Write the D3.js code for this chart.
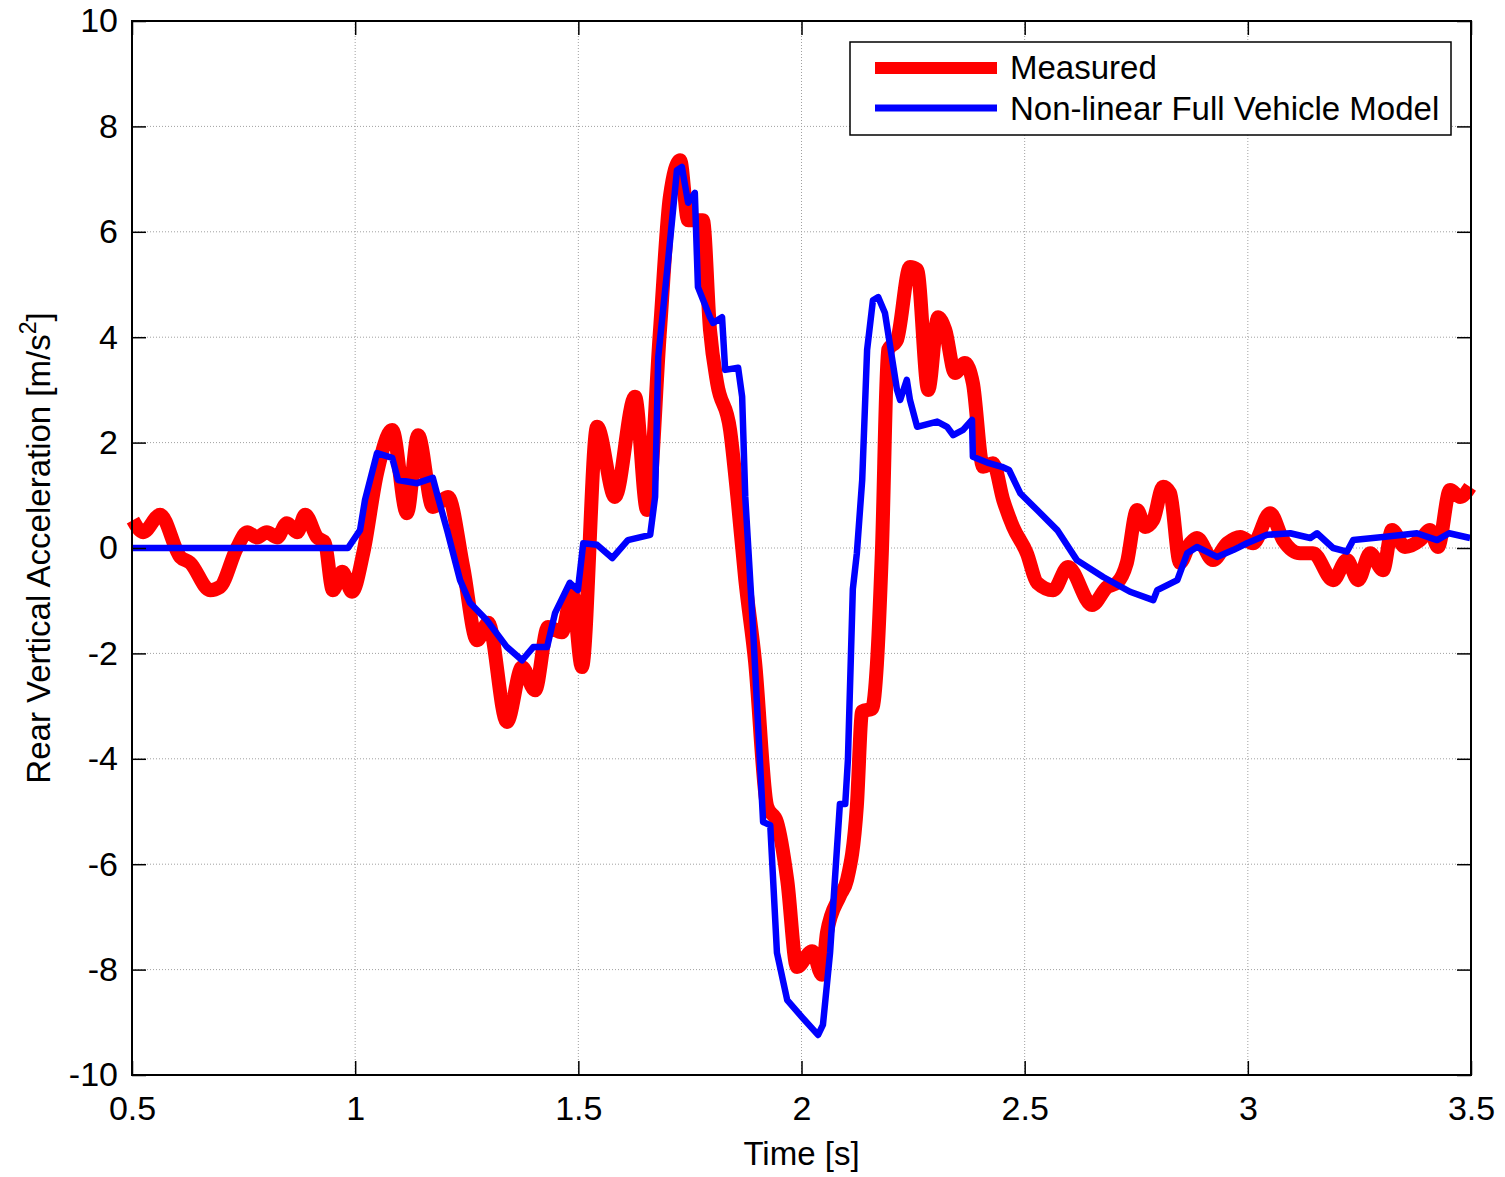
<!DOCTYPE html>
<html>
<head>
<meta charset="utf-8">
<script src="https://cdn.jsdelivr.net/npm/d3@7"></script>
<style>
  body { margin: 0; background: #fff; }
  text { font-family: Arial, "Liberation Sans", sans-serif; fill: #000; }
</style>
</head>
<body>
<script>
// measured rear vertical acceleration
const measTime = [0.502, 0.525, 0.563, 0.608, 0.630, 0.675, 0.697, 0.735, 0.758, 0.780,
    0.802, 0.825, 0.847, 0.870, 0.888, 0.915, 0.932, 0.950, 0.971, 0.993,
    1.018, 1.049, 1.083, 1.116, 1.141, 1.174, 1.208, 1.242, 1.273, 1.298,
    1.340, 1.374, 1.403, 1.432, 1.463, 1.486, 1.508, 1.542, 1.582, 1.627,
    1.654, 1.683, 1.705, 1.728, 1.746, 1.779, 1.795, 1.811, 1.840, 1.856,
    1.874, 1.896, 1.923, 1.945, 1.968, 1.990, 2.024, 2.046, 2.057, 2.086,
    2.102, 2.124, 2.136, 2.158, 2.169, 2.180, 2.194, 2.214, 2.243, 2.259,
    2.284, 2.306, 2.322, 2.344, 2.366, 2.384, 2.407, 2.429, 2.452, 2.474,
    2.505, 2.528, 2.564, 2.597, 2.651, 2.685, 2.707, 2.729, 2.752, 2.770,
    2.788, 2.810, 2.826, 2.848, 2.871, 2.886, 2.922, 2.954, 2.983, 3.012,
    3.050, 3.079, 3.117, 3.146, 3.191, 3.222, 3.247, 3.274, 3.303, 3.323,
    3.352, 3.386, 3.408, 3.426, 3.453, 3.476, 3.498];
const measAcc = [0.53, 0.30, 0.63, -0.17, -0.28, -0.80, -0.74, 0.00, 0.30, 0.20,
    0.30, 0.20, 0.47, 0.30, 0.63, 0.20, 0.10, -0.80, -0.45, -0.83,
    -0.10, 1.42, 2.24, 0.66, 2.14, 0.78, 0.97, -0.36, -1.75, -1.42,
    -3.30, -2.26, -2.70, -1.50, -1.60, -0.85, -2.26, 2.30, 0.97, 2.87,
    0.72, 4.14, 6.66, 7.36, 6.22, 6.22, 4.14, 3.13, 2.24, 1.00,
    -0.60, -2.16, -4.90, -5.20, -6.30, -7.95, -7.65, -8.10, -7.30, -6.60,
    -6.30, -4.90, -3.10, -3.05, -2.20, -0.10, 3.76, 3.95, 5.33, 5.28,
    3.00, 4.38, 4.14, 3.32, 3.51, 3.13, 1.54, 1.61, 0.91, 0.40,
    -0.10, -0.66, -0.80, -0.36, -1.08, -0.74, -0.66, -0.28, 0.72, 0.40,
    0.53, 1.16, 1.04, -0.28, 0.09, 0.19, -0.23, 0.09, 0.21, 0.09,
    0.66, 0.15, -0.10, -0.10, -0.61, -0.23, -0.61, -0.10, -0.42, 0.34,
    0.02, 0.15, 0.34, 0.02, 1.10, 0.97, 1.16];

// non-linear full vehicle model
const modelTime = [0.502, 0.984, 1.011, 1.022, 1.049, 1.083, 1.096, 1.139, 1.174, 1.183,
    1.206, 1.235, 1.257, 1.295, 1.340, 1.374, 1.399, 1.430, 1.448, 1.481,
    1.499, 1.511, 1.542, 1.576, 1.611, 1.661, 1.672, 1.679, 1.699, 1.721,
    1.732, 1.746, 1.761, 1.768, 1.795, 1.802, 1.822, 1.829, 1.858, 1.867,
    1.874, 1.891, 1.914, 1.930, 1.945, 1.968, 2.003, 2.037, 2.048, 2.064,
    2.086, 2.098, 2.104, 2.115, 2.124, 2.136, 2.147, 2.160, 2.172, 2.187,
    2.214, 2.221, 2.236, 2.243, 2.259, 2.304, 2.326, 2.340, 2.362, 2.382,
    2.384, 2.420, 2.449, 2.465, 2.490, 2.528, 2.573, 2.617, 2.676, 2.736,
    2.788, 2.797, 2.842, 2.864, 2.886, 2.931, 2.967, 2.998, 3.043, 3.095,
    3.140, 3.155, 3.191, 3.222, 3.236, 3.303, 3.379, 3.424, 3.451, 3.498];
const modelAcc = [0, 0, 0.34, 0.91, 1.80, 1.71, 1.29, 1.23, 1.33, 1.04,
    0.34, -0.61, -1.04, -1.37, -1.88, -2.13, -1.88, -1.88, -1.23, -0.66,
    -0.80, 0.09, 0.06, -0.19, 0.15, 0.25, 0.97, 3.62, 5.27, 7.17,
    7.23, 6.55, 6.74, 4.95, 4.38, 4.27, 4.38, 3.38, 3.42, 2.87,
    0.97, -1.46, -5.20, -5.26, -7.68, -8.58, -8.92, -9.24, -9.05, -7.68,
    -4.86, -4.86, -4.02, -0.78, -0.10, 1.29, 3.76, 4.70, 4.76, 4.46,
    3.00, 2.81, 3.19, 2.81, 2.30, 2.40, 2.30, 2.14, 2.24, 2.43,
    1.73, 1.61, 1.54, 1.48, 1.04, 0.72, 0.34, -0.23, -0.55, -0.83,
    -0.99, -0.80, -0.61, -0.10, 0.02, -0.17, -0.04, 0.09, 0.25, 0.28,
    0.19, 0.28, 0.00, -0.07, 0.15, 0.21, 0.28, 0.15, 0.28, 0.19];

const xTicks = [0.5, 1, 1.5, 2, 2.5, 3, 3.5];
const yTicks = [-10, -8, -6, -4, -2, 0, 2, 4, 6, 8, 10];
const seriesNames = ['Measured', 'Non-linear Full Vehicle Model'];
const seriesColors = ['#ff0000', '#0000ff'];

const width = 1505;
const height = 1177;
const margin = {left: 132, right: 34, top: 21, bottom: 102};

let svg = d3.select('body')
    .append('svg')
    .attr('width', width)
    .attr('height', height);

const x = d3.scaleLinear()
    .domain([0.5, 3.5])
    .range([margin.left, width - margin.right]);
const y = d3.scaleLinear()
    .domain([-10, 10])
    .range([height - margin.bottom, margin.top]);

// dotted grid
svg.append('g')
    .selectAll('line')
    .data(xTicks.slice(1, -1))
    .join('line')
    .attr('x1', d => x(d)).attr('x2', d => x(d))
    .attr('y1', y(10)).attr('y2', y(-10))
    .style('stroke', '#a0a0a0')
    .style('stroke-width', 1)
    .style('stroke-dasharray', '1,2');
svg.append('g')
    .selectAll('line')
    .data(yTicks.slice(1, -1))
    .join('line')
    .attr('x1', x(0.5)).attr('x2', x(3.5))
    .attr('y1', d => y(d)).attr('y2', d => y(d))
    .style('stroke', '#a0a0a0')
    .style('stroke-width', 1)
    .style('stroke-dasharray', '1,2');

// lines
const measured = measTime.map((t, i) => ({t: t, v: measAcc[i]}));
const model = modelTime.map((t, i) => ({t: t, v: modelAcc[i]}));

const smoothLine = d3.line()
    .x(d => x(d.t))
    .y(d => y(d.v))
    .curve(d3.curveMonotoneX);
const rawLine = d3.line()
    .x(d => x(d.t))
    .y(d => y(d.v));

const plot = svg.append('g');
plot.append('path')
    .attr('d', smoothLine(measured))
    .style('fill', 'none')
    .style('stroke', seriesColors[0])
    .style('stroke-width', 14)
    .style('stroke-linejoin', 'round');
plot.append('path')
    .attr('d', rawLine(model))
    .style('fill', 'none')
    .style('stroke', seriesColors[1])
    .style('stroke-width', 6.5)
    .style('stroke-linejoin', 'round');

// axes (box with inward ticks, MATLAB style)
const tickLen = 14;
const fmt = d => String(d);
svg.append('g')
    .attr('transform', `translate(0,${y(-10)})`)
    .call(d3.axisBottom(x).tickValues(xTicks).tickSize(-tickLen).tickPadding(21)
        .tickFormat(fmt))
    .call(g => g.select('.domain').remove());
svg.append('g')
    .attr('transform', `translate(0,${y(10)})`)
    .call(d3.axisTop(x).tickValues(xTicks).tickSize(-tickLen).tickFormat(''))
    .call(g => g.select('.domain').remove());
svg.append('g')
    .attr('transform', `translate(${x(0.5)},0)`)
    .call(d3.axisLeft(y).tickValues(yTicks).tickSize(-tickLen).tickPadding(14)
        .tickFormat(fmt))
    .call(g => g.select('.domain').remove());
svg.append('g')
    .attr('transform', `translate(${x(3.5)},0)`)
    .call(d3.axisRight(y).tickValues(yTicks).tickSize(-tickLen).tickFormat(''))
    .call(g => g.select('.domain').remove());

svg.selectAll('.tick line')
    .style('stroke', '#000')
    .style('stroke-width', 1.5);
svg.selectAll('.tick text')
    .style('font-size', '34px')
    .style('font-family', 'Arial, "Liberation Sans", sans-serif')
    .style('fill', '#000');

svg.append('rect')
    .attr('x', x(0.5))
    .attr('y', y(10))
    .attr('width', x(3.5) - x(0.5))
    .attr('height', y(-10) - y(10))
    .style('fill', 'none')
    .style('stroke', '#000')
    .style('stroke-width', 2);

// axis labels
svg.append('text')
    .attr('x', x(2))
    .attr('y', 1165)
    .attr('text-anchor', 'middle')
    .style('font-size', '33px')
    .text('Time [s]');

const yLab = svg.append('text')
    .attr('transform', `translate(50,${y(0)}) rotate(-90)`)
    .attr('text-anchor', 'middle')
    .style('font-size', '33px');
yLab.append('tspan').text('Rear Vertical Acceleration [m/s');
yLab.append('tspan').attr('dy', -14).style('font-size', '23px').text('2');
yLab.append('tspan').attr('dy', 14).text(']');

// legend
const legend = svg.append('g');
legend.append('rect')
    .attr('x', 850).attr('y', 42)
    .attr('width', 601).attr('height', 93)
    .style('fill', '#fff')
    .style('stroke', '#000')
    .style('stroke-width', 1.5);
legend.selectAll('line')
    .data(seriesNames)
    .join('line')
    .attr('x1', 875).attr('x2', 997)
    .attr('y1', (d, i) => 68 + i * 40)
    .attr('y2', (d, i) => 68 + i * 40)
    .style('stroke', (d, i) => seriesColors[i])
    .style('stroke-width', (d, i) => i == 0 ? 12 : 7);
legend.selectAll('text')
    .data(seriesNames)
    .join('text')
    .attr('x', 1010)
    .attr('y', (d, i) => 79 + i * 41)
    .style('font-size', '33px')
    .text(d => d);
</script>
</body>
</html>
